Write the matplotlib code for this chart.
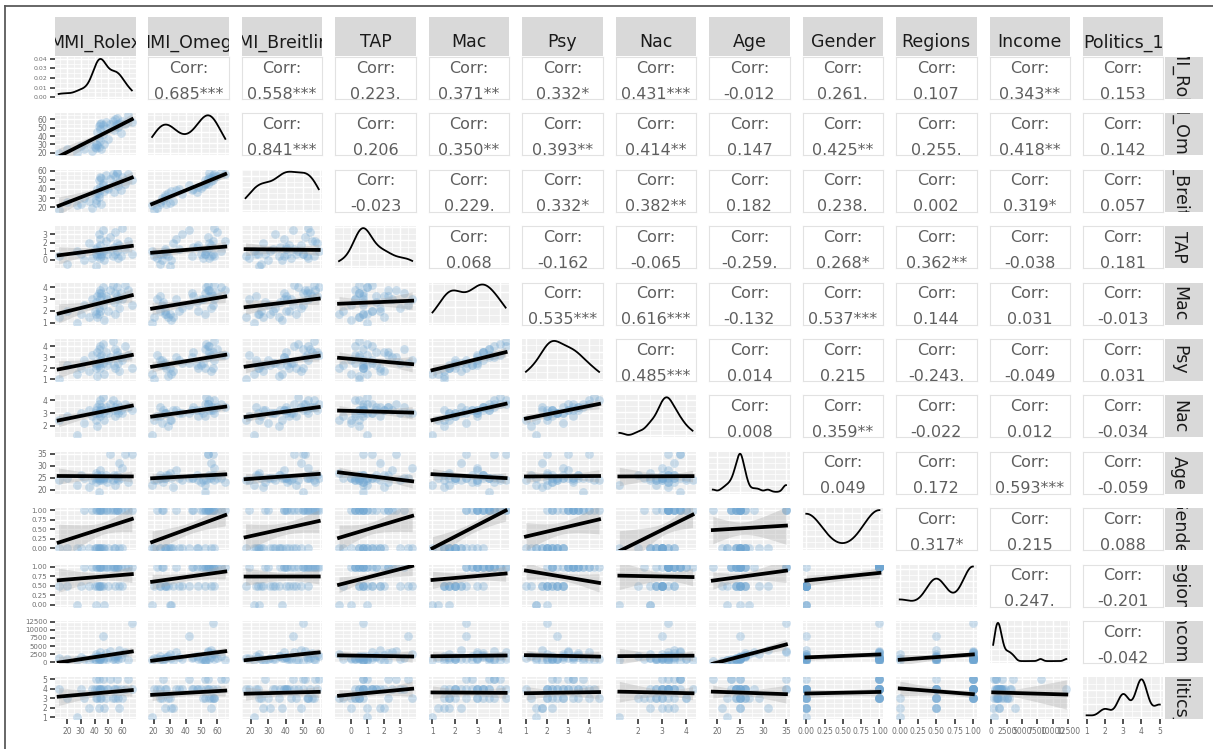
import numpy as np
import matplotlib

matplotlib.use("Agg")
import matplotlib.pyplot as plt  # noqa: E402
from matplotlib.lines import Line2D  # noqa: E402
from matplotlib.ticker import (  # noqa: E402
    AutoMinorLocator,
    FormatStrFormatter,
    MaxNLocator,
    MultipleLocator,
)

W, H, DPI = 1213, 749, 100

names = ["MMI_Rolex", "MMI_Omega", "MMI_Breitling", "TAP", "Mac", "Psy", "Nac",
         "Age", "Gender", "Regions", "Income", "Politics_1"]

# one value per respondent, same order in every list
mmi_rolex = [14, 20, 27, 30, 32, 36, 38, 40, 41, 41, 42, 42, 43, 43, 43, 44, 44, 44, 45, 45,
             46, 46, 47, 48, 49, 50, 51, 53, 54, 55, 55, 56, 56, 57, 58, 59, 60, 62, 64, 67]
mmi_omega = [20, 24, 19, 28, 25, 32, 22, 27, 30, 26, 45, 29, 38, 52, 27, 34, 55, 48, 24, 56,
             42, 53, 31, 57, 50, 36, 54, 58, 47, 60, 52, 55, 62, 51, 56, 44, 58, 54, 65, 57]
mmi_breitling = [17, 26, 22, 24, 30, 27, 19, 33, 25, 28, 40, 36, 34, 50, 31, 39, 53, 42, 23, 52,
                 44, 47, 38, 55, 41, 40, 51, 56, 37, 54, 46, 58, 59, 43, 49, 39, 53, 45, 57, 50]
tap = [0.5, -0.5, 1.0, 0.75, 0.0, 2.0, 0.25, 1.25, -0.75, 0.75, 1.5, 0.5, 3.0, 0.75, 1.0, 2.5,
       0.25, 1.75, 0.75, 0.5, 3.5, 1.0, 0.0, 2.25, 0.75, 1.25, 2.75, 0.5, 1.5, 3.25, 0.75, 2.0,
       1.0, 0.25, 1.75, 0.5, 3.75, 1.25, 2.25, 0.75]
mac = [1.5, 2.0, 1.0, 1.75, 2.5, 1.5, 3.0, 2.0, 1.75, 2.75, 3.25, 1.5, 2.25, 3.5, 1.75, 3.0,
       3.75, 2.0, 3.25, 3.5, 2.5, 4.0, 1.25, 3.25, 3.0, 2.0, 3.75, 4.25, 2.75, 3.5, 1.75, 3.25,
       4.0, 3.0, 2.25, 3.5, 3.0, 4.25, 3.75, 2.5]
psy = [1.0, 2.25, 1.5, 2.0, 2.75, 1.75, 3.25, 2.5, 2.0, 2.25, 3.5, 1.25, 2.5, 3.75, 2.25, 3.0,
       4.0, 2.0, 2.75, 3.25, 2.5, 4.25, 1.5, 3.5, 2.25, 2.75, 3.0, 4.5, 2.25, 3.75, 2.0, 3.5,
       3.25, 2.5, 1.75, 3.0, 2.75, 4.0, 3.25, 2.0]
nac = [2.5, 2.75, 1.25, 3.0, 2.25, 3.25, 2.75, 3.0, 2.5, 3.25, 3.5, 2.0, 3.0, 3.75, 3.0, 3.25,
       4.0, 2.75, 3.5, 3.25, 3.0, 4.25, 2.5, 3.5, 3.25, 3.0, 3.75, 4.0, 3.25, 3.5, 2.75, 3.25,
       3.75, 3.0, 3.5, 3.25, 3.0, 3.75, 3.5, 3.25]
age = [24, 25, 22, 26, 25, 21, 24, 25, 27, 23, 25, 26, 24, 19, 25, 28, 25, 24, 26, 25,
       25, 24, 25, 26, 23, 25, 35, 24, 26, 25, 22, 26, 25, 24, 31, 25, 29, 35, 23, 35]
gender = [0, 0, 0, 0, 1, 0, 1, 0, 0, 1, 1, 0, 0, 1, 0, 1, 1, 0, 0, 1,
          0, 1, 0, 1, 1, 0, 1, 1, 0, 1, 0, 1, 1, 1, 0, 1, 0, 1, 1, 1]
regions = [0.5, 0.5, 0, 0.5, 1, 0.5, 1, 0.5, 0, 1, 1, 0.5, 0.5, 1, 0.5, 1, 1, 0.5, 0.5, 1,
           0.5, 1, 0, 1, 1, 0.5, 1, 1, 1, 1, 0.5, 1, 1, 1, 0.5, 1, 0.5, 1, 1, 1]
income = [1200, 800, 500, 1500, 1000, 300, 1200, 900, 2500, 700, 1500, 2000, 1000, 400, 1300,
          3000, 1100, 800, 1800, 1500, 8000, 600, 1200, 2800, 900, 1600, 3500, 1000, 1900, 1400,
          500, 2200, 1800, 1100, 3800, 1300, 2600, 3200, 700, 12200]
politics_1 = [4, 3, 1, 4, 3, 2, 4, 4, 3, 5, 4, 3, 4, 5, 2, 4, 3, 4, 4, 3,
              5, 4, 2, 3, 4, 4, 5, 3, 4, 4, 3, 4, 5, 3, 2, 4, 3, 4, 5, 4]

data = [np.asarray(v, float) for v in (mmi_rolex, mmi_omega, mmi_breitling, tap, mac, psy,
                                       nac, age, gender, regions, income, politics_1)]

# upper triangle labels, row i against columns i+1 .. 11
corr_labels = [
    ["0.685***", "0.558***", "0.223.", "0.371**", "0.332*", "0.431***", "-0.012", "0.261.",
     "0.107", "0.343**", "0.153"],
    ["0.841***", "0.206", "0.350**", "0.393**", "0.414**", "0.147", "0.425**", "0.255.",
     "0.418**", "0.142"],
    ["-0.023", "0.229.", "0.332*", "0.382**", "0.182", "0.238.", "0.002", "0.319*", "0.057"],
    ["0.068", "-0.162", "-0.065", "-0.259.", "0.268*", "0.362**", "-0.038", "0.181"],
    ["0.535***", "0.616***", "-0.132", "0.537***", "0.144", "0.031", "-0.013"],
    ["0.485***", "0.014", "0.215", "-0.243.", "-0.049", "0.031"],
    ["0.008", "0.359**", "-0.022", "0.012", "-0.034"],
    ["0.049", "0.172", "0.593***", "-0.059"],
    ["0.317*", "0.215", "0.088"],
    ["0.247.", "-0.201"],
    ["-0.042"],
]

tick_step = [10, 10, 10, 1, 1, 1, 1, 5, 0.25, 0.25, 2500, 1]
tick_fmt = ["%g"] * 8 + ["%.2f", "%.2f", "%g", "%g"]

N = len(names)
T_CRIT = 2.024  # t(0.975, n - 2)
POINT = "#6FA6D2"
PANEL_BG = "#EFEFEF"
STRIP_BG = "#D9D9D9"
TEXT_GREY = "#5E5E5E"


def px_rect(left, top, w, h):
    return [left / W, 1 - (top + h) / H, w / W, h / H]


def col_left(c):
    return 55 + c * 93.45


def row_top(r):
    return 57 + r * 56.4


def limits(v):
    lo, hi = v.min(), v.max()
    pad = 0.05 * (hi - lo)
    return lo - pad, hi + pad


def kde(v):
    n = len(v)
    q75, q25 = np.percentile(v, [75, 25])
    bw = 0.9 * min(v.std(ddof=1), (q75 - q25) / 1.34) * n ** -0.2
    xs = np.linspace(v.min(), v.max(), 512)
    k = np.exp(-0.5 * ((xs[:, None] - v[None, :]) / bw) ** 2)
    return xs, k.sum(axis=1) / (n * bw * np.sqrt(2 * np.pi))


def corr_value(i, j):
    a, b = min(i, j), max(i, j)
    return float(corr_labels[a][b - a - 1].rstrip("*."))


def grid_panel(ax, c, r):
    ax.set_facecolor(PANEL_BG)
    for s in ax.spines.values():
        s.set_visible(False)
    ax.xaxis.set_major_locator(MultipleLocator(tick_step[c]))
    ax.xaxis.set_minor_locator(MultipleLocator(tick_step[c] / 2))
    ax.xaxis.set_major_formatter(FormatStrFormatter(tick_fmt[c]))
    ax.grid(True, which="major", color="white", linewidth=1.0)
    ax.grid(True, which="minor", color="white", linewidth=0.5)
    ax.set_axisbelow(True)
    ax.tick_params(which="both", length=0, labelleft=False, labelbottom=False)
    ax.tick_params(which="major", colors="#333333", labelcolor="#6E6E6E", width=1.2)
    if c == 0:
        small = r == 0
        ax.tick_params(axis="y", which="major", length=3.5, labelleft=True, pad=2,
                       labelsize=4.5 if small else 5.5)
    if r == N - 1:
        ax.tick_params(axis="x", which="major", length=3.5, labelbottom=True, pad=2,
                       labelsize=5.5)


fig = plt.figure(figsize=(W / DPI, H / DPI), dpi=DPI)

for r in range(N):
    for c in range(N):
        ax = fig.add_axes(px_rect(col_left(c), row_top(r), 80.5, 42))
        x = data[c]
        if r < c:
            # correlation text panel
            ax.set_facecolor("white")
            for s in ax.spines.values():
                s.set_color("#E2E2E2")
                s.set_linewidth(0.8)
            ax.set_xticks([])
            ax.set_yticks([])
            ax.text(0.5, 0.63, "Corr:", transform=ax.transAxes, ha="center", va="baseline",
                    fontsize=11.5, color=TEXT_GREY, clip_on=True)
            ax.text(0.5, 0.01, corr_labels[r][c - r - 1], transform=ax.transAxes,
                    ha="center", va="baseline", fontsize=11.5, color=TEXT_GREY, clip_on=True)
            continue

        ax.set_xlim(*limits(x))
        if r == c:
            xs, ys = kde(x)
            ax.plot(xs, ys, color="black", linewidth=1.3)
            ax.set_ylim(-0.05 * ys.max(), ys.max() * 1.05)
            grid_panel(ax, c, r)
            if r == 0:
                ax.yaxis.set_major_locator(MultipleLocator(0.01))
                ax.yaxis.set_minor_locator(MultipleLocator(0.005))
                ax.yaxis.set_major_formatter(FormatStrFormatter("%.2f"))
            else:
                ax.yaxis.set_major_locator(MaxNLocator(nbins=4))
                ax.yaxis.set_minor_locator(AutoMinorLocator(2))
            continue

        # scatter with linear fit
        y = data[r]
        ax.set_ylim(*limits(y))
        ax.scatter(x, y, s=40, color=POINT, alpha=0.32, linewidths=0, zorder=2)
        rv = corr_value(r, c)
        n = len(x)
        sx, sy = x.std(ddof=1), y.std(ddof=1)
        xs = np.linspace(x.min(), x.max(), 80)
        fit = y.mean() + rv * sy / sx * (xs - x.mean())
        s_res = sy * np.sqrt((1 - rv ** 2) * (n - 1) / (n - 2))
        se = s_res * np.sqrt(1 / n + (xs - x.mean()) ** 2 / ((n - 1) * sx ** 2))
        ax.fill_between(xs, fit - T_CRIT * se, fit + T_CRIT * se, color="#A8A8A8",
                        alpha=0.35, linewidth=0, zorder=3)
        ax.plot(xs, fit, color="black", linewidth=2.7, zorder=4)
        grid_panel(ax, c, r)
        ax.yaxis.set_major_locator(MultipleLocator(tick_step[r]))
        ax.yaxis.set_minor_locator(MultipleLocator(tick_step[r] / 2))
        ax.yaxis.set_major_formatter(FormatStrFormatter(tick_fmt[r]))
        if c == 0 and r in (8, 9, 10):
            ax.tick_params(axis="y", labelsize=5)

# strips along the top and the right
for i, name in enumerate(names):
    sx_ax = fig.add_axes(px_rect(col_left(i), 17, 80.5, 39))
    sy_ax = fig.add_axes(px_rect(1164.5, row_top(i), 38.5, 42))
    for sa in (sx_ax, sy_ax):
        sa.set_facecolor(STRIP_BG)
        sa.set_xticks([])
        sa.set_yticks([])
        for s in sa.spines.values():
            s.set_visible(False)
    sx_ax.text(0.5, 0.22, name, transform=sx_ax.transAxes, ha="center", va="baseline",
               fontsize=12.5, color="#1A1A1A", clip_on=True)
    sy_ax.text(0.38, 0.5, name, transform=sy_ax.transAxes, ha="center", va="center",
               rotation=270, fontsize=12.5, color="#1A1A1A", clip_on=True)

# frame of the screenshot
fig.add_artist(Line2D([5 / W, 1], [1 - 6 / H, 1 - 6 / H], color="#5A5A5A", linewidth=1.3))
fig.add_artist(Line2D([5 / W, 5 / W], [0, 1 - 6 / H], color="#5A5A5A", linewidth=1.3))

fig.savefig("out.png", dpi=DPI)
